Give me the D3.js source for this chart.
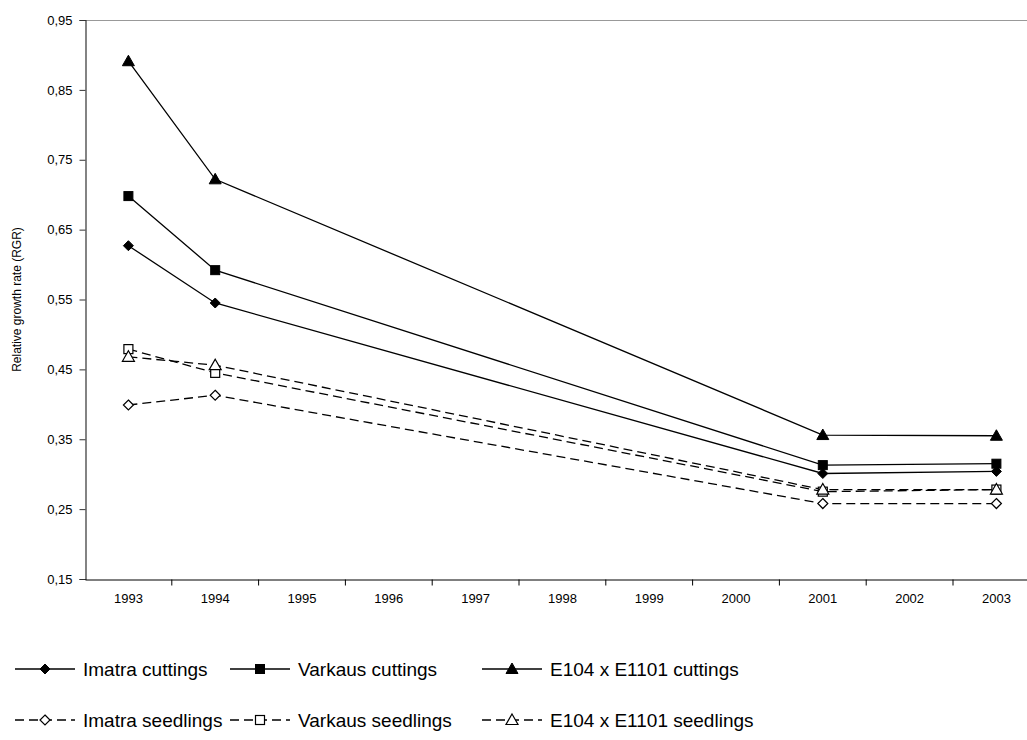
<!DOCTYPE html>
<html><head><meta charset="utf-8">
<script src="https://cdn.jsdelivr.net/npm/d3@7"></script>
<style>body{margin:0;background:#fff}svg{display:block}text{font-family:Arial,"Liberation Sans",sans-serif}</style>
</head><body>
<script>
const years = ["1993","1994","1995","1996","1997","1998","1999","2000","2001","2002","2003"];
const dataYears = ["1993","1994","2001","2003"];
const imatraCuttings   = [0.627, 0.545, 0.301, 0.304];
const varkausCuttings  = [0.698, 0.592, 0.313, 0.315];
const e104Cuttings     = [0.891, 0.722, 0.356, 0.355];
const imatraSeedlings  = [0.399, 0.413, 0.258, 0.258];
const varkausSeedlings = [0.479, 0.445, 0.275, 0.278];
const e104Seedlings    = [0.468, 0.456, 0.278, 0.278];
const yTicks = [0.15,0.25,0.35,0.45,0.55,0.65,0.75,0.85,0.95];
const seriesNames = ["Imatra cuttings","Varkaus cuttings","E104 x E1101 cuttings","Imatra seedlings","Varkaus seedlings","E104 x E1101 seedlings"];

const series = [
  {name:seriesNames[0], vals:imatraCuttings, marker:"diamond", filled:true, dashed:false},
  {name:seriesNames[1], vals:varkausCuttings, marker:"square", filled:true, dashed:false},
  {name:seriesNames[2], vals:e104Cuttings, marker:"triangle", filled:true, dashed:false},
  {name:seriesNames[3], vals:imatraSeedlings, marker:"diamond", filled:false, dashed:true},
  {name:seriesNames[4], vals:varkausSeedlings, marker:"square", filled:false, dashed:true},
  {name:seriesNames[5], vals:e104Seedlings, marker:"triangle", filled:false, dashed:true}
];

const W=1027,H=740;
const svg=d3.select("body").append("svg").attr("width",W).attr("height",H);
const mLeft=85, mTop=20, mBottom=579, step=86.8;
const x=d3.scaleBand().domain(years).range([mLeft,mLeft+step*years.length]).padding(0);
const y=d3.scaleLinear().domain([0.15,0.95]).range([mBottom,mTop]);

// frame
svg.append("line").attr("x1",mLeft).attr("x2",W).attr("y1",mTop+0.5).attr("y2",mTop+0.5).attr("stroke","#999").attr("stroke-width",1);

const yAxis=d3.axisLeft(y).tickValues(yTicks).tickSize(6).tickFormat(d=>d3.format(".2f")(d).replace(".",","));
const gy=svg.append("g").attr("transform",`translate(${mLeft+0.5},0)`).call(yAxis);
gy.select(".domain").attr("stroke","#333").attr("stroke-width",1.2);
gy.selectAll(".tick line").attr("stroke","#333");
gy.selectAll("text").attr("font-size",13).attr("fill","#000").attr("x",-13);

const xAxis=d3.axisBottom(x).tickSize(0).tickSizeOuter(0);
const gx=svg.append("g").attr("transform",`translate(0,${mBottom+0.5})`).call(xAxis);
gx.select(".domain").attr("stroke","#000");
gx.selectAll("text").attr("font-size",13).attr("fill","#000").attr("dy","1.55em");
gx.selectAll(".sep").data(years).enter().append("line").attr("class","sep")
  .attr("x1",d=>x(d)+x.bandwidth()).attr("x2",d=>x(d)+x.bandwidth())
  .attr("y1",0).attr("y2",6).attr("stroke","#000");

svg.append("text").attr("transform",`translate(21,${(mTop+mBottom)/2}) rotate(-90)`)
  .attr("text-anchor","middle").attr("font-size",12).text("Relative growth rate (RGR)");

const cx=d=>x(d)+x.bandwidth()/2;
const line=d3.line().x(d=>cx(d.year)).y(d=>y(d.v));

function drawMarker(g,type,filled,px,py){
  let el;
  if(type==="diamond"){
    const s=5;
    el=g.append("path").attr("d",`M${px},${py-s}L${px+s},${py}L${px},${py+s}L${px-s},${py}Z`);
  } else if(type==="square"){
    const s=4.5;
    el=g.append("rect").attr("x",px-s).attr("y",py-s).attr("width",2*s).attr("height",2*s);
  } else {
    const s=6;
    el=g.append("path").attr("d",`M${px},${py-s}L${px+s},${py+s*0.75}L${px-s},${py+s*0.75}Z`);
  }
  el.attr("fill",filled?"#000":"#fff").attr("stroke","#000").attr("stroke-width",filled?1:1.2);
}

const plot=svg.append("g");
series.forEach(s=>{
  const pts=dataYears.map((yr,i)=>({year:yr,v:s.vals[i]}));
  plot.append("path").datum(pts).attr("d",line).attr("fill","none").attr("stroke","#000")
    .attr("stroke-width",1.3).attr("stroke-dasharray",s.dashed?"9,5":null);
});
series.forEach(s=>{
  const g=plot.append("g");
  dataYears.forEach((yr,i)=>drawMarker(g,s.marker,s.filled,cx(yr),y(s.vals[i])));
});

const legX=[15,230,482], legY=[669,720];
series.forEach((s,i)=>{
  const lx=legX[i%3], ly=legY[Math.floor(i/3)];
  const g=svg.append("g");
  g.append("line").attr("x1",lx).attr("x2",lx+60).attr("y1",ly).attr("y2",ly).attr("stroke","#000")
    .attr("stroke-width",1.3).attr("stroke-dasharray",s.dashed?"9,5":null);
  drawMarker(g,s.marker,s.filled,lx+30,ly);
  g.append("text").attr("x",lx+68).attr("y",ly).attr("dy","0.35em").attr("font-size",19).text(s.name);
});
</script>
</body></html>
